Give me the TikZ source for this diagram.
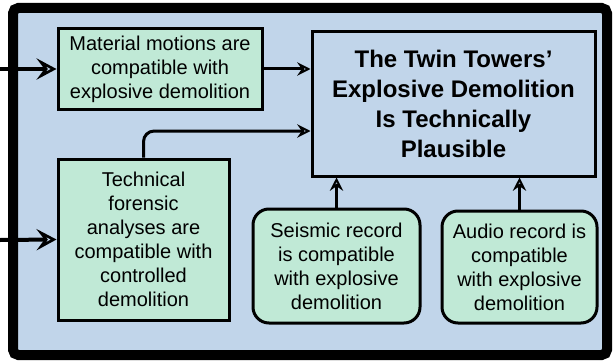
\documentclass[tikz,border=0pt]{standalone}
\usepackage{fontspec}
\setmainfont{Liberation Sans}
\usetikzlibrary{arrows.meta}
\definecolor{panelblue}{RGB}{193,213,234}
\definecolor{claimgreen}{RGB}{192,233,214}

\begin{document}
\begin{tikzpicture}[x=0.75pt, y=-0.75pt,
    claim/.style={draw, line width=2.25pt, fill=claimgreen, align=center, inner sep=0pt,
      font=\fontsize{15}{18}\selectfont},
    goal/.style={draw, line width=2.25pt, fill=panelblue, align=center, inner sep=0pt,
      font=\fontsize{18}{22.5}\selectfont\bfseries},
    conn/.style={line width=2.25pt, -{Stealth[open, length=10pt, width=10pt, inset=3.5pt, line width=1.5pt]}},
    feed/.style={line width=3pt, -{Stealth[open, length=15pt, width=16pt, inset=6pt, line width=2pt]}}]
      \useasboundingbox (0,0) rectangle (613,360);
      \draw [line width=7.5pt, fill=panelblue, rounded corners=4pt] (13,8) rectangle (607,355);
      % boxes
      \node [goal, minimum width=212.25pt, minimum height=108pt] (goal) at (453.5,104)
        {The Twin Towers'\\Explosive Demolition\\Is Technically\\Plausible};
      \node [claim, minimum width=153pt, minimum height=60pt] (motion) at (160,69)
        {Material motions are\\compatible with\\explosive demolition};
      \node [claim, minimum width=128.25pt, minimum height=120.75pt] (forensic) at (143.5,239.5)
        {Technical\\forensic\\analyses are\\compatible with\\controlled\\demolition};
      \node [claim, rounded corners=12pt, minimum width=125.25pt, minimum height=85.5pt] (seismic) at (336.5,266)
        {Seismic record\\is compatible\\with explosive\\demolition};
      \node [claim, rounded corners=12pt, minimum width=116.25pt, minimum height=84pt] (audio) at (519.5,267)
        {Audio record is\\compatible\\with explosive\\demolition};
      % connectors
      \coordinate (inMotion) at (0,69);
      \coordinate (inForensic) at (0,240);
      \draw [feed] (inMotion) -- (motion.west);
      \draw [feed] (inForensic) -- (forensic.west);
      \draw [conn] (motion.east) -- (motion.east -| goal.west);
      \draw [conn, rounded corners=8pt] (forensic.north) |- (goal.west |- 0,131);
      \draw [conn] (seismic.north) -- (seismic.north |- goal.south);
      \draw [conn] (audio.north) -- (audio.north |- goal.south);
    \end{tikzpicture}
\end{document}
